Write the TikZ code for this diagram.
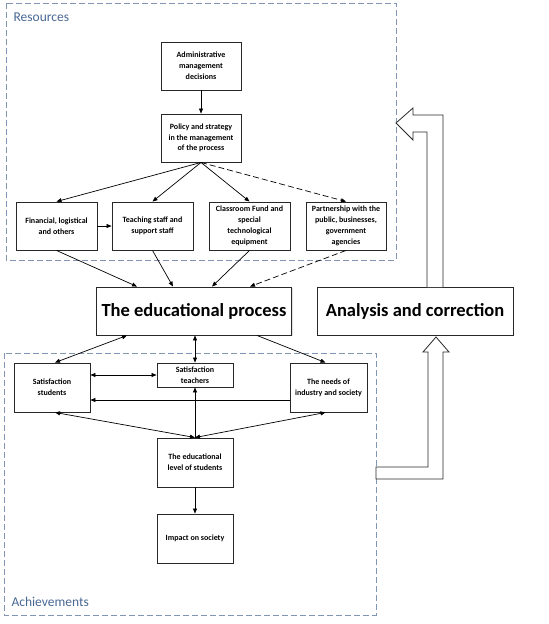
\documentclass[tikz,border=0pt]{standalone}
\usepackage{fontspec}
\setmainfont{Carlito}
\usepackage{tikz}
\usetikzlibrary{arrows.meta, positioning, calc, shadows}
\usepackage{xcolor}
\definecolor{framegray}{RGB}{128,150,180}
\definecolor{labelblue}{RGB}{72,104,146}
\definecolor{boxline}{RGB}{40,40,40}

\begin{document}
\begin{tikzpicture}[
  x=1pt, y=-1pt,
  >={Triangle[length=5pt,width=4pt]},
  box/.style={rectangle, draw=boxline, line width=0.9pt, fill=white,
              align=center, inner sep=1pt, font=\fontsize{8}{10.8}\selectfont\bfseries,
              drop shadow={shadow xshift=1pt, shadow yshift=-1pt, opacity=0.25, fill=gray}},
  smallbox/.style={box, minimum width=80pt, minimum height=48pt},
  bigbox/.style={box, minimum width=195pt, minimum height=48pt,
                 font=\fontsize{18.5}{20}\selectfont\bfseries},
  zone/.style={draw=framegray, dash pattern=on 6pt off 3pt, line width=0.8pt},
  zonelabel/.style={text=labelblue, font=\fontsize{13.5}{15}\selectfont, anchor=west},
  link/.style={line width=0.7pt},
  weaklink/.style={link, dash pattern=on 6pt off 3pt},
  blockarrow/.style={draw=boxline, line width=0.8pt, fill=white},
]
\useasboundingbox (0,0) rectangle (549,624);

\draw[zone] (6,3) rectangle (396,260);
\node[zonelabel] (reslabel) at (10,17) {Resources};
\draw[zone] (4,353) rectangle (376,615);
\node[zonelabel] (achlabel) at (8,602) {Achievements};

\node[smallbox] (admin)   at (201,66)    {Administrative\\management\\decisions};
\node[smallbox] (policy)  at (201,138)   {Policy and strategy\\in the management\\of the process};
\node[smallbox, minimum width=81pt] (fin)     at (56.5,226)  {Financial, logistical\\and others};
\node[smallbox, minimum width=81pt] (teach)   at (152.5,226) {Teaching staff and\\support staff};
\node[smallbox, minimum width=81pt] (class)   at (249.5,226) {Classroom Fund and\\special\\technological\\equipment};
\node[smallbox] (partner) at (346,226)   {Partnership with the\\public, businesses,\\government\\agencies};

\node[bigbox] (process)  at (194,311) {The educational process};
\node[bigbox, minimum width=196pt] (analysis) at (415,311) {Analysis and correction};

\node[smallbox, minimum width=76pt, minimum height=49pt] (students) at (52,387.5)  {Satisfaction\\students};
\node[smallbox, minimum width=76pt, minimum height=24pt] (teachers) at (195,375)   {Satisfaction\\teachers};
\node[smallbox, minimum width=77pt, minimum height=49pt] (needs)    at (328.5,387.5) {The needs of\\industry and society};
\node[smallbox, minimum width=76pt, minimum height=49pt] (level)    at (195,462.5) {The educational\\level of students};
\node[smallbox, minimum width=76pt, minimum height=49pt] (impact)   at (195,538.5) {Impact on society};

\draw[link, ->] (admin) -- (policy);
\draw[link, ->] (policy.south) -- (fin.north);
\draw[link, ->] (policy.south) -- (teach.north);
\draw[link, ->] (policy.south) -- (class.north);
\draw[weaklink, ->] (policy.south) -- (partner.north);
\draw[link, ->] (fin) -- (teach);

\draw[link, ->] (fin.south) -- ([xshift=-57pt]process.north);
\draw[link, ->] (teach.south) -- ([xshift=-21pt]process.north);
\draw[link, ->] (class.south) -- ([xshift=18pt]process.north);
\draw[weaklink, ->] (partner.south) -- ([xshift=56pt]process.north);

\draw[link, <->] ([xshift=-67pt]process.south) -- ([xshift=3pt]students.north);
\draw[link, <->] (teachers.north |- process.south) -- (teachers.north);
\draw[link, ->] ([xshift=63pt]process.south) -- ([xshift=-3pt]needs.north);
\draw[link, <->] (students.east |- teachers) -- (teachers.west);
\draw[link, ->] ([yshift=-12.5pt]needs.west) -- ([yshift=-12.5pt]students.east);
\draw[link, ->] (level.north) -- (teachers.south);
\draw[link, <->] ([xshift=3pt]students.south) -- (level.north);
\draw[link, <->] (level.north) -- ([xshift=-3pt]needs.south);
\draw[link, ->] (level) -- (impact);

\draw[blockarrow] (427,287) -- (427,132) -- (413,132) -- (413,140) -- (396,123)
  -- (413,108) -- (413,115) -- (443,115) -- (443,287);
\draw[blockarrow] (376,467) -- (428,467) -- (428,352) -- (423,352) -- (436,337)
  -- (449,352) -- (443,352) -- (443,479) -- (376,479) -- cycle;
\end{tikzpicture}
\end{document}
